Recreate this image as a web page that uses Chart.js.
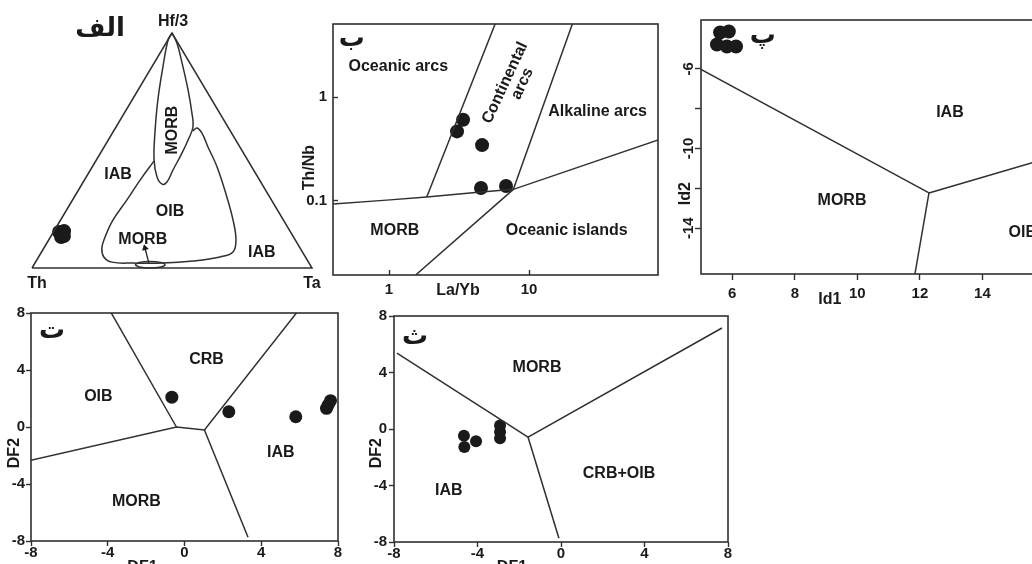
<!DOCTYPE html>
<html>
<head>
<meta charset="utf-8">
<script src="https://cdn.jsdelivr.net/npm/chart.js@4.4.1/dist/chart.umd.min.js"></script>
<style>
html, body { margin: 0; padding: 0; background: #fff; width: 1032px; height: 564px; overflow: hidden; }
.panel { position: absolute; }
</style>
</head>
<body>
<div class="panel" id="boxA"><canvas id="chartA"></canvas></div>
<div class="panel" id="boxB"><canvas id="chartB"></canvas></div>
<div class="panel" id="boxP"><canvas id="chartP"></canvas></div>
<div class="panel" id="boxT"><canvas id="chartT"></canvas></div>
<div class="panel" id="boxS"><canvas id="chartS"></canvas></div>
<script>
// ---- الف : Th - Hf/3 - Ta ternary, compositions as [Th, Hf/3, Ta] (%) ----
const ternTriangle = [[100, 0, 0], [0, 100, 0], [0, 0, 100], [100, 0, 0]];
const ternMorbNarrow = [
  [0, 100, 0], [2.9, 97.0, 0.1], [10.5, 85.5, 4.0], [19.3, 71.5, 9.2], [27.4, 57.4, 15.2],
  [33.4, 46.0, 20.6], [36.0, 38.7, 25.3], [35.7, 35.7, 28.6], [33.5, 36.6, 29.9], [28.8, 41.7, 29.5],
  [22.0, 48.9, 29.1], [17.0, 54.5, 28.5], [12.5, 60.0, 27.5], [9.9, 66.0, 24.1], [6.4, 75.7, 17.9],
  [2.8, 87.2, 10.0], [0.4, 95.7, 3.9], [0, 100, 0]
];
const ternOib = [
  [33.7, 45.5, 20.8], [42.7, 37.4, 19.9], [51.7, 28.9, 19.4], [60.9, 20.4, 18.7], [67.3, 13.2, 19.5],
  [70.8, 8.5, 20.7], [72.0, 4.7, 23.3], [70.2, 2.5, 27.3], [62.9, 2.1, 35.0], [52.2, 2.1, 45.7],
  [41.0, 3.0, 56.0], [30.5, 4.7, 64.8], [24.8, 6.8, 68.4], [21.2, 11.9, 66.9], [18.0, 20.4, 61.6],
  [15.3, 30.2, 54.5], [12.4, 43.0, 44.6], [11.4, 51.5, 37.1], [10.6, 57.4, 32.0], [11.3, 59.6, 29.1],
  [13.4, 58.3, 28.3]
];
const ternMorbSmall = [
  [62.5, 1.4, 36.1], [60.5, 2.4, 37.1], [56.5, 2.8, 40.7], [52.8, 2.4, 44.8], [51.8, 1.4, 46.8],
  [53.8, 0.4, 45.8], [57.9, 0, 42.1], [61.5, 0.4, 38.1], [62.5, 1.4, 36.1]
];
const ternArrow = [[57.2, 2.1, 40.7], [55.4, 8.5, 36.1]];
const ternSamples = [[83.0, 13.2, 3.8], [80.7, 15.7, 3.6], [82.7, 15.3, 2.0], [81.8, 13.6, 4.6]];

// ---- ب : Th/Nb vs La/Yb ----
const bLaYb = [3.38, 3.06, 4.62, 4.54, 6.85];
const bThNb = [0.607, 0.468, 0.345, 0.133, 0.139];
const bBaseCurve = [[0.40, 0.0931], [0.963, 0.1015], [1.86, 0.109], [3.79, 0.119], [7.73, 0.129], [83.9, 0.387]];
const bArcLeft = [[1.86, 0.109], [5.79, 5.3]];
const bArcRight = [[7.73, 0.129], [20.6, 5.3]];
const bIslandLine = [[1.55, 0.0192], [7.73, 0.129]];
const bXTicks = [1, 10];
const bXTickLabels = ['1', '10'];
const bYTicks = [0.1, 1];
const bYTickLabels = ['0.1', '1'];

// ---- پ : Id2 vs Id1 ----
const pId1 = [5.61, 5.89, 5.51, 5.83, 6.12];
const pId2 = [-4.18, -4.13, -4.78, -4.88, -4.88];
const pLineIab = [[5.0, -6.03], [12.29, -12.23]];
const pLineMorb = [[12.29, -12.23], [11.83, -16.4]];
const pLineOib = [[12.29, -12.23], [16.0, -10.53]];
const pXTicks = [6, 8, 10, 12, 14, 16];
const pXTickLabels = ['6', '8', '10', '12', '14', '16'];
const pYTicks = [-6, -8, -10, -12, -14];
const pYTickLabels = ['-6', '', '-10', '', '-14'];

// ---- ت : DF2 vs DF1 ----
const tDF1 = [-0.66, 2.31, 5.8, 7.4, 7.61, 7.49];
const tDF2 = [2.09, 1.07, 0.72, 1.31, 1.85, 1.54];
const tLineOib = [[-3.9, 8.2], [-0.42, 0]];
const tLineBase = [[-8.2, -2.39], [-0.42, 0], [1.04, -0.21], [5.95, 8.2]];
const tLineIab = [[1.04, -0.21], [3.31, -7.74]];

// ---- ث : DF2 vs DF1 ----
const sDF1 = [-4.65, -4.63, -4.07, -2.92, -2.92, -2.92];
const sDF2 = [-0.48, -1.27, -0.86, 0.24, -0.22, -0.65];
const sLineTop = [[-7.86, 5.38], [-1.58, -0.57], [7.71, 7.15]];
const sLineBottom = [[-1.58, -0.57], [-0.1, -7.74]];

const dfTicks = [-8, -4, 0, 4, 8];
const dfTickLabels = ['-8', '-4', '0', '4', '8'];

// ---- style ----
const SANS = '"Liberation Sans", Arial, Helvetica, sans-serif';
const ink = '#1a1a1a';
const lineInk = '#303030';
const labelFont = 'bold 16px ' + SANS;
const arabicFont = 'bold 26px "DejaVu Sans", sans-serif';
const tickFont = {family: SANS, size: 15, weight: 'bold'};

Chart.defaults.animation = false;
Chart.defaults.events = [];
Chart.defaults.font.family = SANS;

const tern = c => {
  const s = c[0] + c[1] + c[2];
  return {x: (c[2] + c[1] / 2) / s * 100, y: c[1] / s * 100};
};
const pairs = a => a.map(p => ({x: p[0], y: p[1]}));
const pts = (xs, ys) => xs.map((x, i) => ({x: x, y: ys[i]}));

function line(data, tension) {
  return {data: data, showLine: true, borderColor: lineInk, borderWidth: 1.5,
          pointRadius: 0, tension: tension || 0, fill: false};
}
function dots(data, r) {
  return {data: data, showLine: false, pointRadius: r, backgroundColor: ink,
          pointBorderWidth: 0, pointBorderColor: ink};
}

// text, frame and rotated tick labels
const notes = {
  id: 'notes',
  afterDraw(chart, args, o) {
    const ctx = chart.ctx, sx = chart.scales.x, sy = chart.scales.y, a = chart.chartArea;
    ctx.save();
    if (o.frame) {
      ctx.strokeStyle = lineInk;
      ctx.lineWidth = 1.6;
      ctx.strokeRect(a.left, a.top, a.right - a.left, a.bottom - a.top);
    }
    ctx.fillStyle = ink;
    ctx.textAlign = 'center';
    ctx.textBaseline = 'middle';
    (o.items || []).forEach(it => {
      ctx.save();
      ctx.translate(sx.getPixelForValue(it.x) + (it.dx || 0), sy.getPixelForValue(it.y) + (it.dy || 0));
      if (it.rot) ctx.rotate(it.rot * Math.PI / 180);
      ctx.font = it.font || labelFont;
      ctx.fillText(it.text, 0, 0);
      ctx.restore();
    });
    if (o.rotY) {
      ctx.font = 'bold 15px ' + SANS;
      o.rotY.values.forEach((v, i) => {
        ctx.save();
        ctx.translate(a.left - o.rotY.gap, sy.getPixelForValue(v));
        ctx.rotate(-Math.PI / 2);
        ctx.fillText(o.rotY.labels[i], 0, 0);
        ctx.restore();
      });
    }
    ctx.restore();
  }
};

function place(id, area, pad) {
  const el = document.getElementById(id);
  el.style.left = (area.l - pad.l) + 'px';
  el.style.top = (area.t - pad.t) + 'px';
  el.style.width = (area.r - area.l + pad.l + pad.r) + 'px';
  el.style.height = (area.b - area.t + pad.t + pad.b) + 'px';
}

function axis(o) {
  return {
    type: o.type || 'linear',
    min: o.min,
    max: o.max,
    afterBuildTicks: s => { s.ticks = o.ticks.map(v => ({value: v})); },
    afterFit: s => { if (s.isHorizontal()) s.height = o.size; else s.width = o.size; },
    ticks: {
      display: o.show !== false,
      autoSkip: false, minRotation: 0, maxRotation: 0,
      padding: o.padding, color: ink, font: tickFont,
      callback: (v, i) => o.labels[i]
    },
    grid: {drawOnChartArea: false, drawTicks: true, tickLength: o.tl,
           tickWidth: 1.4, tickColor: lineInk},
    border: {display: false}
  };
}

function plot(canvasId, area, pad, xAxis, yAxis, datasets, noteOpts) {
  return new Chart(document.getElementById(canvasId), {
    type: 'scatter',
    data: {datasets: datasets},
    options: {
      responsive: true,
      maintainAspectRatio: false,
      layout: {padding: {left: 0, top: pad.t, right: pad.r, bottom: 0}},
      scales: {x: xAxis, y: yAxis},
      plugins: {legend: {display: false}, tooltip: {enabled: false}, notes: noteOpts}
    },
    plugins: [notes]
  });
}

// ---------- الف ----------
const areaA = {l: 32, t: 33, r: 312, b: 268}, padA = {l: 32, t: 32, r: 22, b: 28};
place('boxA', areaA, padA);
new Chart(document.getElementById('chartA'), {
  type: 'scatter',
  data: {datasets: [
    line(ternTriangle.map(tern)),
    line(ternMorbNarrow.map(tern), 0.4),
    line(ternOib.map(tern), 0.4),
    line(ternMorbSmall.map(tern), 0.4),
    {data: ternArrow.map(tern), showLine: true, borderColor: lineInk, borderWidth: 1.4,
     pointRadius: [0, 4], pointStyle: 'triangle', pointRotation: [0, -15],
     backgroundColor: ink, pointBorderWidth: 0},
    dots(ternSamples.map(tern), 7)
  ].map(d => Object.assign(d, {clip: false}))},
  options: {
    responsive: true,
    maintainAspectRatio: false,
    layout: {padding: {left: padA.l, top: padA.t, right: padA.r, bottom: padA.b}},
    scales: {x: {display: false, min: 0, max: 100}, y: {display: false, min: 0, max: 100}},
    plugins: {legend: {display: false}, tooltip: {enabled: false}, notes: {items: [
      Object.assign(tern([0, 100, 0]), {text: 'Hf/3', dy: -11, dx: 1}),
      Object.assign(tern([100, 0, 0]), {text: 'Th', dx: 5, dy: 16}),
      Object.assign(tern([0, 0, 100]), {text: 'Ta', dx: 0, dy: 16}),
      Object.assign(tern([0, 100, 0]), {text: 'الف', dx: -72, dy: -4, font: arabicFont}),
      Object.assign(tern([49.5, 39.6, 10.9]), {text: 'IAB'}),
      Object.assign(tern([38.8, 23.8, 37.4]), {text: 'OIB'}),
      Object.assign(tern([54.5, 11.9, 33.6]), {text: 'MORB'}),
      Object.assign(tern([20.3, 58.7, 21.0]), {text: 'MORB', rot: -90}),
      Object.assign(tern([14.7, 6.4, 78.9]), {text: 'IAB'})
    ]}}
  },
  plugins: [notes]
});

// ---------- ب ----------
const areaB = {l: 333, t: 18, r: 658, b: 275}, padB = {l: 42, t: 14, r: 14, b: 32};
place('boxB', areaB, padB);
plot('chartB', areaB, padB,
  axis({type: 'logarithmic', min: 0.398, max: 83.4, ticks: bXTicks, labels: bXTickLabels, size: padB.b, tl: -5, padding: 11}),
  axis({type: 'logarithmic', min: 0.0192, max: 5.1, ticks: bYTicks, labels: bYTickLabels, size: padB.l, tl: -5, padding: 11}),
  [line(pairs(bBaseCurve)), line(pairs(bArcLeft)), line(pairs(bArcRight)), line(pairs(bIslandLine)),
   dots(pts(bLaYb, bThNb), 7)],
  {frame: true, items: [
    {text: 'ب', x: 0.542, y: 3.66, font: arabicFont},
    {text: 'Oceanic arcs', x: 1.165, y: 1.97},
    {text: 'Continental', x: 6.74, y: 1.377, rot: -65},
    {text: 'arcs', x: 8.96, y: 1.35, rot: -65},
    {text: 'Alkaline arcs', x: 30.9, y: 0.733},
    {text: 'MORB', x: 1.10, y: 0.051},
    {text: 'Oceanic islands', x: 18.6, y: 0.051},
    {text: 'Th/Nb', x: 0.273, y: 0.209, rot: -90},
    {text: 'La/Yb', x: 3.11, y: 0.01355}
  ]});

// ---------- پ ----------
const areaP = {l: 701, t: 20, r: 1045, b: 274}, padP = {l: 32, t: 14, r: 14, b: 36};
place('boxP', areaP, padP);
plot('chartP', areaP, padP,
  axis({min: 5, max: 16, ticks: pXTicks, labels: pXTickLabels, size: padP.b, tl: 6, padding: 5}),
  axis({min: -16.3, max: -3.55, ticks: pYTicks, labels: pYTickLabels, size: padP.l, tl: 6, padding: 2, show: false}),
  [line(pairs(pLineIab)), line(pairs(pLineMorb)), line(pairs(pLineOib)), dots(pts(pId1, pId2), 7)],
  {frame: true, rotY: {values: pYTicks, labels: pYTickLabels, gap: 12.5}, items: [
    {text: 'پ', x: 6.98, y: -4.38, font: arabicFont},
    {text: 'IAB', x: 12.96, y: -8.21},
    {text: 'MORB', x: 9.51, y: -12.6},
    {text: 'OIB', x: 15.29, y: -14.23},
    {text: 'Id2', x: 4.52, y: -12.27, rot: -90},
    {text: 'Id1', x: 9.12, y: -17.59}
  ]});

// ---------- ت ----------
const areaT = {l: 31, t: 313, r: 338, b: 541}, padT = {l: 31, t: 14, r: 14, b: 34};
place('boxT', areaT, padT);
plot('chartT', areaT, padT,
  axis({min: -8, max: 8, ticks: dfTicks, labels: dfTickLabels, size: padT.b, tl: 5, padding: -2}),
  axis({min: -8, max: 8, ticks: dfTicks, labels: dfTickLabels, size: padT.l, tl: 5, padding: 1}),
  [line(pairs(tLineOib)), line(pairs(tLineBase)), line(pairs(tLineIab)), dots(pts(tDF1, tDF2), 6.5)],
  {frame: true, items: [
    {text: 'ت', x: -6.9, y: 6.75, font: arabicFont},
    {text: 'CRB', x: 1.15, y: 4.72},
    {text: 'OIB', x: -4.49, y: 2.11},
    {text: 'IAB', x: 5.02, y: -1.83},
    {text: 'MORB', x: -2.51, y: -5.22},
    {text: 'DF2', x: -8.88, y: -1.83, rot: -90},
    {text: 'DF1', x: -2.19, y: -9.87}
  ]});

// ---------- ث ----------
const areaS = {l: 394, t: 316, r: 728, b: 542}, padS = {l: 36, t: 14, r: 14, b: 34};
place('boxS', areaS, padS);
plot('chartS', areaS, padS,
  axis({min: -8, max: 8, ticks: dfTicks, labels: dfTickLabels, size: padS.b, tl: 5, padding: -2}),
  axis({min: -8, max: 8, ticks: dfTicks, labels: dfTickLabels, size: padS.l, tl: 5, padding: 2}),
  [line(pairs(sLineTop)), line(pairs(sLineBottom)), dots(pts(sDF1, sDF2), 6)],
  {frame: true, items: [
    {text: 'ث', x: -6.99, y: 6.5, font: arabicFont},
    {text: 'MORB', x: -1.15, y: 4.32},
    {text: 'CRB+OIB', x: 2.78, y: -3.13},
    {text: 'IAB', x: -5.37, y: -4.33},
    {text: 'DF2', x: -8.81, y: -1.71, rot: -90},
    {text: 'DF1', x: -2.35, y: -9.8}
  ]});
</script>
</body>
</html>
